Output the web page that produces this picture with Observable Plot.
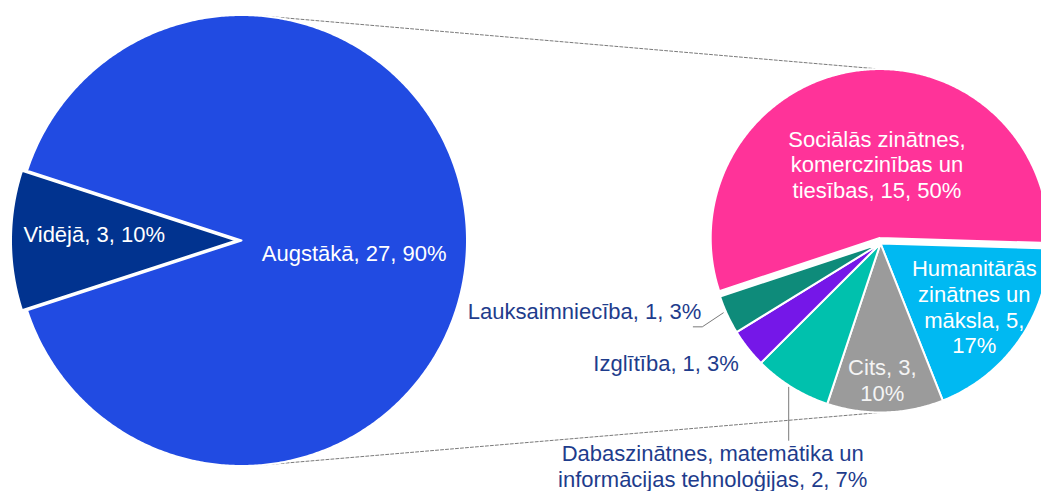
<!DOCTYPE html>
<html><head><meta charset="utf-8">
<script src="https://cdn.jsdelivr.net/npm/d3@7"></script>
<script src="https://cdn.jsdelivr.net/npm/@observablehq/plot@0.6"></script>
<style>body{margin:0;background:#fff;overflow:hidden}</style>
</head><body><div id="chart"></div>
<script>
// ---- data ----
const primaryNames = ["Vidējā", "Augstākā"];
const primaryValues = [3, 27];
const primaryColors = ["#01338F", "#214BE2"];
const secondaryNames = ["Humanitārās zinātnes un māksla", "Cits", "Dabaszinātnes, matemātika un informācijas tehnoloģijas", "Izglītība", "Lauksaimniecība", "Sociālās zinātnes, komerczinības un tiesības"];
const secondaryValues = [5, 3, 2, 1, 1, 15];
const secondaryColors = ["#00B9F2", "#9B9B9B", "#00C1AD", "#7517E8", "#0E8B7A", "#FF3399"];
const primaryLabelText = ["Vidējā, 3, 10%", "Augstākā, 27, 90%"];
const secondaryLabelText = [
  "Humanitārās\nzinātnes un\nmāksla, 5,\n17%",
  "Cits, 3,\n10%",
  "Dabaszinātnes, matemātika un\ninformācijas tehnoloģijas, 2, 7%",
  "Izglītība, 1, 3%",
  "Lauksaimniecība, 1, 3%",
  "Sociālās zinātnes,\nkomerczinības un\ntiesības, 15, 50%"
];

// ---- layout ----
const W = 1041, H = 491;
const FONT = "'Liberation Sans', Arial, sans-serif";
const deg = Math.PI / 180;
const P = {cx: 241, cy: 240, r: 225.5, start: 252};
const primaryExplode = [5, 0];
const S = {cx: 880, cy: 243, r: 169, start: 91.7};
const secondaryExplode = [0, 0, 0, 0, 0, 5.5];
// inside labels: radius fraction + nudge; outside: offsets from slice edge point
const primaryLabelPos = [{rf: 0.631, dx: 0, dy: -7}, {rf: 0.4995, dx: 0, dy: 12}];
const secondaryLabelPos = [
  {rf: 0.66, dx: 2.5, dy: -1, anchor: "middle", fill: "white"},
  {rf: 0.80, dx: -2, dy: 1, anchor: "middle", fill: "#F4F4F4"},
  {rf: 1.0, dx: -79, dy: 78.5, anchor: "middle", fill: "#1E3C8C", leader: [[-3, 0], [-3, 53]]},
  {rf: 1.0, dx: -9, dy: 14.5, anchor: "end", fill: "#1E3C8C"},
  {rf: 1.0, dx: -26, dy: -4, anchor: "end", fill: "#1E3C8C", leader: [[-4, -2], [-25, 12], [-34, 12]]},
  {rf: 0.44, dx: 8, dy: -0.5, anchor: "middle", fill: "white"}
];

const pt = (cx, cy, r, a) => [cx + r * Math.sin(a), cy - r * Math.cos(a)];

function slicePoly(cx, cy, r, a0, a1, key, color) {
  const out = [{x: cx, y: cy, key, color}];
  const n = Math.max(2, Math.ceil((a1 - a0) / (0.5 * deg)));
  for (let i = 0; i <= n; i++) {
    const [x, y] = pt(cx, cy, r, a0 + (a1 - a0) * i / n);
    out.push({x, y, key, color});
  }
  out.push({x: cx, y: cy, key, color});
  return out;
}

const pie = (start) => d3.pie().sort(null).startAngle(start * deg).endAngle((start + 360) * deg);
const pArcs = pie(P.start)(primaryValues);
const sArcs = pie(S.start)(secondaryValues);

let polys = [];
const texts = [];
const leaders = [];

pArcs.forEach((a, i) => {
  const mid = (a.startAngle + a.endAngle) / 2;
  const [cx, cy] = pt(P.cx, P.cy, primaryExplode[i], mid);
  polys = polys.concat(slicePoly(cx, cy, P.r, a.startAngle, a.endAngle, "p" + i, primaryColors[i]));
  const L = primaryLabelPos[i];
  const [x, y] = pt(cx, cy, P.r * L.rf, mid);
  texts.push({x: x + L.dx, y: y + L.dy, text: primaryLabelText[i], anchor: "middle", fill: "white"});
});

let sTop = null;
sArcs.forEach((a, i) => {
  const mid = (a.startAngle + a.endAngle) / 2;
  const [cx, cy] = pt(S.cx, S.cy, secondaryExplode[i], mid);
  polys = polys.concat(slicePoly(cx, cy, S.r, a.startAngle, a.endAngle, "s" + i, secondaryColors[i]));
  if (a.startAngle <= 2 * Math.PI && a.endAngle >= 2 * Math.PI) sTop = pt(cx, cy, S.r, 0);
  const L = secondaryLabelPos[i];
  const [x, y] = pt(cx, cy, S.r * L.rf, mid);
  texts.push({x: x + L.dx, y: y + L.dy, text: secondaryLabelText[i], anchor: L.anchor, fill: L.fill});
  if (L.leader) {
    const [ex, ey] = pt(cx, cy, S.r, mid);
    L.leader.forEach(([ox, oy]) => leaders.push({x: ex + ox, y: ey + oy, key: "l" + i}));
  }
});
if (!sTop) sTop = pt(S.cx, S.cy, S.r, 0);
const sBot = pt(S.cx, S.cy, S.r, Math.PI);
const pTop = pt(P.cx, P.cy, P.r, 5 * deg);
const pBot = pt(P.cx, P.cy, P.r, 175 * deg);
const connectors = [
  {x: pTop[0], y: pTop[1], key: "top"}, {x: sTop[0], y: sTop[1], key: "top"},
  {x: pBot[0], y: pBot[1], key: "bot"}, {x: sBot[0], y: sBot[1], key: "bot"}
];

const textMarks = ["middle", "end"].map(anchor => Plot.text(texts.filter(t => t.anchor === anchor), {
  x: "x", y: "y", text: "text", fill: "fill", textAnchor: anchor,
  fontSize: 22, fontFamily: FONT, lineHeight: 1.165
}));

const chart = Plot.plot({
  width: W, height: H, margin: 0,
  x: {domain: [0, W], range: [0, W], axis: null},
  y: {domain: [0, H], range: [0, H], axis: null},
  color: {type: "identity"},
  style: {background: "white", fontFamily: FONT},
  marks: [
    Plot.line(connectors, {x: "x", y: "y", z: "key", stroke: "#7a7a7a", strokeWidth: 1, strokeDasharray: "3,2"}),
    Plot.line(polys, {x: "x", y: "y", z: "key", fill: "color", stroke: "white", strokeWidth: 2, strokeLinejoin: "round"}),
    Plot.line(leaders, {x: "x", y: "y", z: "key", stroke: "#7a7a7a", strokeWidth: 1}),
    ...textMarks
  ]
});
document.getElementById("chart").appendChild(chart);
</script>
</body></html>
